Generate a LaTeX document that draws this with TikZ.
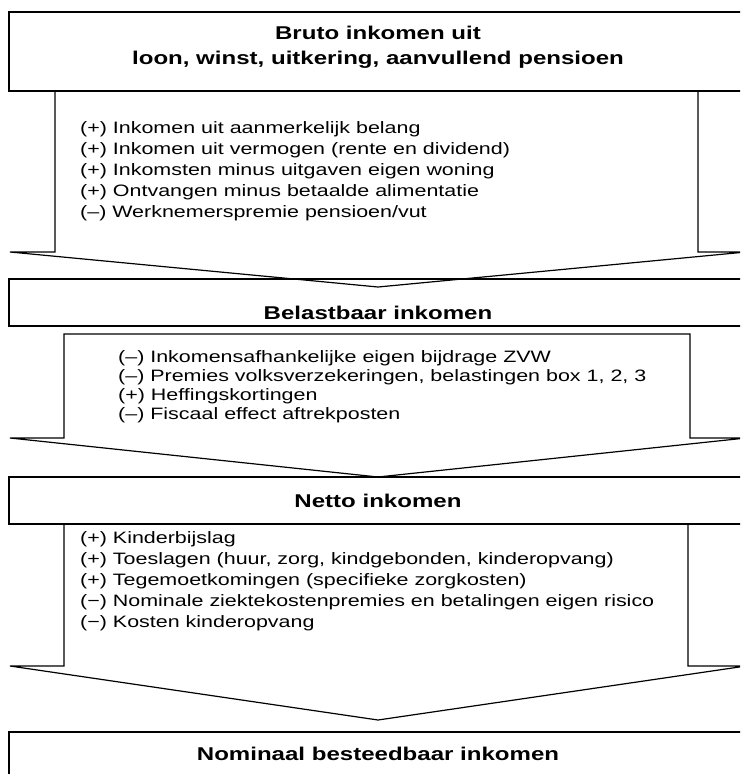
\documentclass[tikz,border=0pt]{standalone}
\usepackage{fontspec}
\setmainfont{Liberation Sans}[FakeStretch=1.3]
\usetikzlibrary{positioning}

\begin{document}
\begin{tikzpicture}[
    x=1pt, y=-1pt,
    kader/.style={draw=black, line width=1.3pt, minimum width=738pt, inner sep=0pt,
        font=\fontsize{18.5pt}{25pt}\selectfont\bfseries},
    pijl/.style={draw=black, line width=1.2pt, line join=miter},
    regel/.style={anchor=base west, inner sep=0pt, font=\fontsize{16.5pt}{19pt}\selectfont}
    ]
    \path[use as bounding box, clip] (0,0) rectangle (740,774);
    \fill[white] (0,0) rectangle (740,774);

    \node[kader, minimum height=79pt, align=center, text depth=12pt] (bruto) at (378,51.5)
        {Bruto inkomen uit\\loon, winst, uitkering, aanvullend pensioen};
    \draw[pijl] (bruto.south -| 55,0) |- (10,252) -- (bruto.south |- 0,287)
        -- (746,252) -| (bruto.south -| 698,0);
    \foreach \tekst [count=\i] in {{(+) Inkomen uit aanmerkelijk belang},
            {(+) Inkomen uit vermogen (rente en dividend)},
            {(+) Inkomsten minus uitgaven eigen woning},
            {(+) Ontvangen minus betaalde alimentatie},
            {(–) Werknemerspremie pensioen/vut}}
        \node[regel] (brutoregel\i) at (80,{112.5+21*\i}) {\tekst};

    \node[kader, minimum height=47pt, text height=34.6pt] (belast) at (378,302.5)
        {Belastbaar inkomen};
    \draw[pijl] (64,334) -- (690,334) -- (690,438) -- (746,438)
        -- (belast.south |- 0,477) -- (10,438) -- (64,438) -- cycle;
    \foreach \tekst [count=\i] in {{(–) Inkomensafhankelijke eigen bijdrage ZVW},
            {(–) Premies volksverzekeringen, belastingen box 1, 2, 3},
            {(+) Heffingskortingen},
            {(–) Fiscaal effect aftrekposten}}
        \node[regel] (belastregel\i) at (118,{343.5+19*\i}) {\tekst};

    \node[kader, minimum height=47pt] (netto) at (378,500.5) {Netto inkomen};
    \draw[pijl] (netto.south -| 64,0) |- (10,666) -- (netto.south |- 0,720)
        -- (746,666) -| (netto.south -| 688,0);
    \foreach \tekst [count=\i] in {{(+) Kinderbijslag},
            {(+) Toeslagen (huur, zorg, kindgebonden, kinderopvang)},
            {(+) Tegemoetkomingen (specifieke zorgkosten)},
            {(−) Nominale ziektekostenpremies en betalingen eigen risico},
            {(−) Kosten kinderopvang}}
        \node[regel] (nettoregel\i) at (80,{522+21*\i}) {\tekst};

    \node[kader, minimum height=44pt] (besteed) at (378,754)
        {Nominaal besteedbaar inkomen};
\end{tikzpicture}
\end{document}
